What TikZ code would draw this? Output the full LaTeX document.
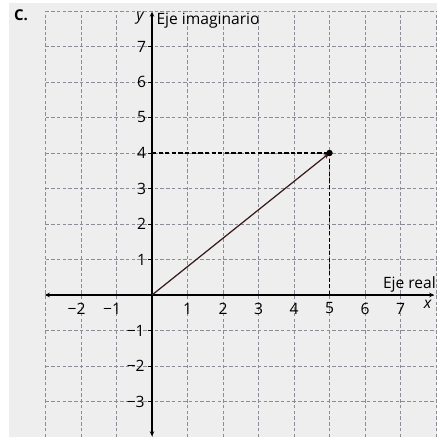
\documentclass[tikz,border=0pt]{standalone}
\usepackage{fontspec}
\setmainfont{Open Sans}
\usetikzlibrary{arrows.meta, positioning, calc}
\definecolor{panelgray}{RGB}{238,238,238}
\definecolor{gridgray}{RGB}{140,140,150}
\definecolor{vecbrown}{RGB}{60,28,28}
\tikzset{
  gridline/.style = {draw=gridgray, dash pattern=on 2.8pt off 1.8pt, line width=0.6pt},
  axis/.style     = {{Stealth[length=4pt,width=3.6pt]}-{Stealth[length=4pt,width=3.6pt]},
                     line width=0.95pt, black},
  vec/.style      = {-{Stealth[length=5pt,width=3.8pt]}, line width=1pt, color=vecbrown},
  proj/.style     = {draw=black, dash pattern=on 3.4pt off 1.9pt, line width=1.1pt},
  xlab/.style     = {inner sep=0pt, anchor=center},
  ylab/.style     = {inner sep=0pt, anchor=east},
  axlab/.style    = {inner sep=0pt, font=\fontsize{12.5}{14}\selectfont\itshape},
}

\begin{document}
\begin{tikzpicture}[every node/.style={font=\fontsize{12.5}{14}\selectfont}]
  \useasboundingbox (-4.282,-4.0) rectangle (8.028,8.31);
  \fill[panelgray] (-4.03,-4.0) rectangle (8.03,8.225);

  % grid
  \foreach \x in {-3,...,8}
    \draw[gridline] (\x,-4) -- (\x,8);
  \foreach \y in {-4,...,8}
    \draw[gridline] (-3,\y) -- (8,\y);

  % axes
  \coordinate (xmin) at (-3.02,0);
  \coordinate (xmax) at (7.95,0);
  \coordinate (ymin) at (0,-3.98);
  \coordinate (ymax) at (0,7.98);
  \draw[axis] (xmin) -- (xmax);
  \draw[axis] (ymin) -- (ymax);

  % tick labels
  \foreach \x in {1,...,7}
    \node[xlab] (x\x) at (\x,-0.38) {\x};
  \foreach \x in {1,2}
    \node[xlab] (xm\x) at (-\x,-0.38) {\llap{−}\x};
  \foreach \y in {1,...,7} {
    \draw[line width=0.7pt] (-0.12,\y) -- (0,\y);
    \node[ylab] (y\y) at (-0.16,\y) {\y};
  }
  \foreach \y in {1,2,3} {
    \draw[line width=0.7pt] (-0.12,-\y) -- (0,-\y);
    \node[ylab] (ym\y) at (-0.2,-\y) {−\y};
  }

  % axis names
  \node[axlab] (ylbl) at (-0.34,7.8) {y};
  \node[inner sep=0pt, anchor=base west] (imlbl) at (0.12,7.63) {Eje imaginario};
  \node[axlab] (xlbl) at (7.76,-0.26) {x};
  \node[inner sep=0pt, anchor=base west] (relbl) at (6.5,0.17) {Eje real};

  % the vector 5+4i
  \coordinate (O) at (0,0);
  \coordinate (P) at (5,4);
  \coordinate (Px) at (5,0);
  \coordinate (Py) at (0,4);
  \draw[proj] (Py) -- (P);
  \draw[proj] (Px) -- (P);
  \draw[vec] (O) -- (P);
  \fill (P) circle (0.09);

  \node[inner sep=0pt, font=\fontsize{12}{14}\selectfont\bfseries] (tag) at (-3.69,7.89) {C.};
\end{tikzpicture}
\end{document}
